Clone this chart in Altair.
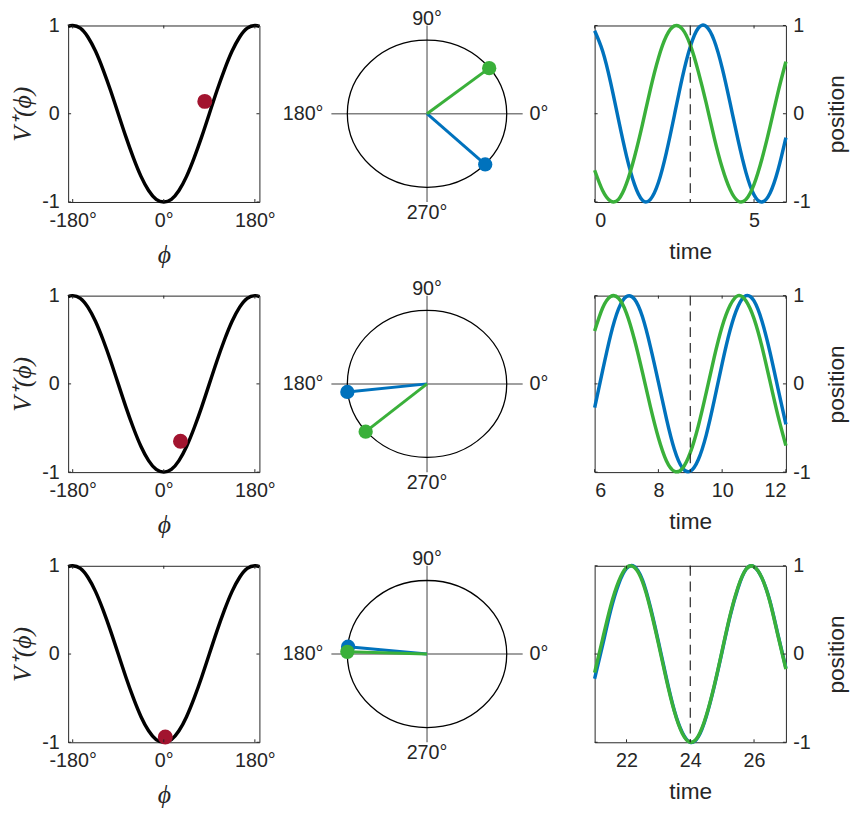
import altair as alt
import pandas as pd

# ---------------- data ----------------
phi_deg = [-189, -180, -165, -150, -135, -120, -105, -90, -75, -60, -45, -30, -15, 0,
           15, 30, 45, 60, 75, 90, 105, 120, 135, 150, 165, 180, 189]
V_plus = [0.99, 1.00, 0.97, 0.87, 0.71, 0.50, 0.26, 0.00, -0.26, -0.50, -0.71, -0.87, -0.97, -1.00,
          -0.97, -0.87, -0.71, -0.50, -0.26, 0.00, 0.26, 0.50, 0.71, 0.87, 0.97, 1.00, 0.99]

red_phi = [81, 33, 3]
red_V = [0.14, -0.65, -0.94]

blue_cx = [0.73, -1.00, -0.99]
blue_cy = [-0.69, -0.11, 0.10]
green_cx = [0.78, -0.77, -1.00]
green_cy = [0.62, -0.65, 0.03]

t_start = [0, 6, 21]
t_step = 0.25
blue_pos = [
    [0.94, 0.71, 0.355, -0.07, -0.48, -0.80, -0.98, -0.97, -0.78, -0.44, -0.02, 0.41, 0.76,
     0.97, 0.99, 0.83, 0.52, 0.12, -0.30, -0.67, -0.92, -1.00, -0.90, -0.64, -0.27],
    [-0.27, 0.15, 0.55, 0.85, 0.99, 0.96, 0.76, 0.42, 0.02, -0.39, -0.74, -0.95, -0.99,
     -0.86, -0.58, -0.19, 0.23, 0.61, 0.88, 1.00, 0.94, 0.71, 0.36, -0.05, -0.46],
    [-0.28, 0.10, 0.49, 0.79, 0.97, 0.99, 0.84, 0.53, 0.14, -0.27, -0.64, -0.89, -1.00,
     -0.94, -0.71, -0.37, 0.03, 0.43, 0.75, 0.96, 0.99, 0.86, 0.60, 0.22, -0.16],
]
green_pos = [
    [-0.64, -0.87, -0.99, -0.97, -0.79, -0.49, -0.12, 0.28, 0.63, 0.88, 0.995, 0.96, 0.78,
     0.48, 0.12, -0.27, -0.61, -0.86, -0.99, -0.97, -0.80, -0.51, -0.15, 0.24, 0.59],
    [0.60, 0.86, 0.99, 0.97, 0.80, 0.50, 0.13, -0.26, -0.61, -0.87, -0.99, -0.96, -0.78,
     -0.48, -0.10, 0.30, 0.65, 0.89, 1.00, 0.94, 0.74, 0.42, 0.03, -0.36, -0.70],
    [-0.21, 0.17, 0.54, 0.82, 0.98, 0.98, 0.82, 0.51, 0.12, -0.29, -0.65, -0.90, -1.00,
     -0.93, -0.70, -0.36, 0.04, 0.44, 0.76, 0.96, 0.99, 0.86, 0.59, 0.21, -0.17],
]
now_t = [3, 9, 24]
time_domains = [[0, 6], [6, 12], [21, 27]]
time_ticks = [[0, 5], [6, 8, 10, 12], [22, 24, 26]]
phi_ticks = [-180, 0, 180]
val_ticks = [-1, 0, 1]
phi_domain = [-189, 189]
circle_domain = [-1.2, 1.2]

# ---------------- styling ----------------
W, H = 194, 179
FONT = "Liberation Sans"
SERIF = "Liberation Serif"
AX = "#262626"
BLUE = "#0072BD"
GREEN = "#3AB03A"
RED = "#A2142F"
GRAY = "#808080"
TICK_LEN = 3
LABEL_SIZE = 20
TITLE_SIZE = 23
SERIF_SIZE = 26
NEG = "(datum.value < 0 ? '-' : '') + abs(datum.value)"
RX = W / 2.4
ELLIPSE = "M -1 0 A 1 {r:.4f} 0 1 1 1 0 A 1 {r:.4f} 0 1 1 -1 0 Z".format(r=H / W)
ELLIPSE_SIZE = (2 * RX) ** 2


def box_ticks(xvals, yvals):
    dx = pd.DataFrame({"x": xvals})
    dy = pd.DataFrame({"y": yvals})
    base = dict(color=AX, strokeWidth=1)
    return [
        alt.Chart(dx).mark_rule(**base).encode(x="x:Q", y=alt.value(H), y2=alt.value(H - TICK_LEN)),
        alt.Chart(dx).mark_rule(**base).encode(x="x:Q", y=alt.value(0), y2=alt.value(TICK_LEN)),
        alt.Chart(dy).mark_rule(**base).encode(y="y:Q", x=alt.value(0), x2=alt.value(TICK_LEN)),
        alt.Chart(dy).mark_rule(**base).encode(y="y:Q", x=alt.value(W), x2=alt.value(W - TICK_LEN)),
    ]


def left_panel(i):
    df = pd.DataFrame({"x": phi_deg, "y": V_plus})
    curve = alt.Chart(df).mark_line(color="black", strokeWidth=3.5, interpolate="natural").encode(
        x=alt.X("x:Q", scale=alt.Scale(domain=phi_domain, nice=False, zero=False),
                axis=alt.Axis(values=phi_ticks, labelExpr=NEG + " + '°'", title="ϕ",
                              titleFont=SERIF, titleFontStyle="italic", titleFontSize=SERIF_SIZE,
                              labelPadding=9, titlePadding=11)),
        y=alt.Y("y:Q", scale=alt.Scale(domain=[-1, 1], nice=False, zero=False),
                axis=alt.Axis(values=val_ticks, labelExpr=NEG, title="V⁺(ϕ)",
                              titleFont=SERIF, titleFontStyle="italic", titleFontSize=SERIF_SIZE,
                              labelPadding=9, titlePadding=6)),
    )
    pt = alt.Chart(pd.DataFrame({"x": [red_phi[i]], "y": [red_V[i]]})).mark_circle(
        size=230, color=RED, opacity=1).encode(x="x:Q", y="y:Q")
    return alt.layer(curve, pt, *box_ticks(phi_ticks, val_ticks)).properties(width=W, height=H)


def mid_panel(i):
    sc = alt.Scale(domain=circle_domain, nice=False, zero=False)
    hline = alt.Chart(pd.DataFrame({"y": [0]})).mark_rule(color=GRAY, strokeWidth=1.5).encode(
        y=alt.Y("y:Q", scale=sc, axis=None))
    vline = alt.Chart(pd.DataFrame({"x": [0]})).mark_rule(color=GRAY, strokeWidth=1.5).encode(
        x=alt.X("x:Q", scale=sc, axis=None))
    ring = alt.Chart(pd.DataFrame({"x": [0], "y": [0]})).mark_point(
        shape=ELLIPSE, size=ELLIPSE_SIZE, filled=False, color="black", strokeWidth=1.3, opacity=1
    ).encode(x=alt.X("x:Q", scale=sc, axis=None), y=alt.Y("y:Q", scale=sc, axis=None))
    vec = pd.DataFrame({
        "s": ["blue", "green"],
        "ox": [0, 0], "oy": [0, 0],
        "x": [blue_cx[i], green_cx[i]],
        "y": [blue_cy[i], green_cy[i]],
    })
    col = alt.Color("s:N", scale=alt.Scale(domain=["blue", "green"], range=[BLUE, GREEN]), legend=None)
    rods = alt.Chart(vec).mark_rule(strokeWidth=3).encode(
        x=alt.X("ox:Q", scale=sc, axis=None), y=alt.Y("oy:Q", scale=sc, axis=None),
        x2="x:Q", y2="y:Q", color=col)
    dots = alt.Chart(vec).mark_circle(size=210, opacity=1).encode(
        x=alt.X("x:Q", scale=sc, axis=None), y=alt.Y("y:Q", scale=sc, axis=None), color=col)

    def lab(text, x, y, **kw):
        return alt.Chart(pd.DataFrame({"x": [x], "y": [y], "t": [text]})).mark_text(
            font=FONT, fontSize=LABEL_SIZE, color=AX, **kw).encode(
            x=alt.X("x:Q", scale=sc, axis=None), y=alt.Y("y:Q", scale=sc, axis=None), text="t:N")

    labels = [
        lab("90°", 0, circle_domain[1], align="center", baseline="alphabetic", dy=-1),
        lab("270°", 0, circle_domain[0], align="center", baseline="top", dy=1),
        lab("180°", circle_domain[0], 0, align="right", baseline="middle", dx=-8),
        lab("0°", circle_domain[1], 0, align="left", baseline="middle", dx=7),
    ]
    return alt.layer(hline, vline, ring, rods, dots, *labels).properties(
        width=W, height=H, view=alt.ViewBackground(stroke="transparent"))


def right_panel(i):
    n = len(blue_pos[i])
    t = [t_start[i] + t_step * k for k in range(n)]
    db = pd.DataFrame({"x": t, "y": blue_pos[i]})
    dg = pd.DataFrame({"x": t, "y": green_pos[i]})
    xs = alt.Scale(domain=time_domains[i], nice=False, zero=False)
    ys = alt.Scale(domain=[-1, 1], nice=False, zero=False)
    xax = alt.Axis(values=time_ticks[i], labelExpr=NEG, title="time", labelPadding=9, titlePadding=10)
    yax = alt.Axis(values=val_ticks, labelExpr=NEG, title="position", orient="right",
                   labelPadding=7, titlePadding=16, titleAngle=270, titleBaseline="top")
    lb = alt.Chart(db).mark_line(color=BLUE, strokeWidth=3.5, interpolate="natural").encode(
        x=alt.X("x:Q", scale=xs, axis=xax), y=alt.Y("y:Q", scale=ys, axis=yax))
    lg = alt.Chart(dg).mark_line(color=GREEN, strokeWidth=3.5, interpolate="natural").encode(
        x="x:Q", y="y:Q")
    now = alt.Chart(pd.DataFrame({"x": [now_t[i]]})).mark_rule(
        color=AX, strokeWidth=1.2, strokeDash=[10, 6]).encode(x="x:Q")
    return alt.layer(lb, lg, now, *box_ticks(time_ticks[i], val_ticks)).properties(width=W, height=H)


panels = []
for i in range(3):
    panels += [left_panel(i), mid_panel(i), right_panel(i)]

chart = alt.concat(
    *panels, columns=3, spacing={"row": 95, "column": 73}, bounds="flush"
).properties(
    padding={"left": 1, "top": -6, "right": 0, "bottom": 0}
).configure(
    font=FONT
).configure_view(
    stroke=AX, strokeWidth=1
).configure_axis(
    labelFont=FONT, labelFontSize=LABEL_SIZE, labelColor=AX,
    titleFont=FONT, titleFontSize=TITLE_SIZE, titleFontWeight="normal", titleColor=AX,
    grid=False, ticks=False, domain=False,
)

chart.save("out.html", embed_options={"renderer": "svg", "actions": False})
